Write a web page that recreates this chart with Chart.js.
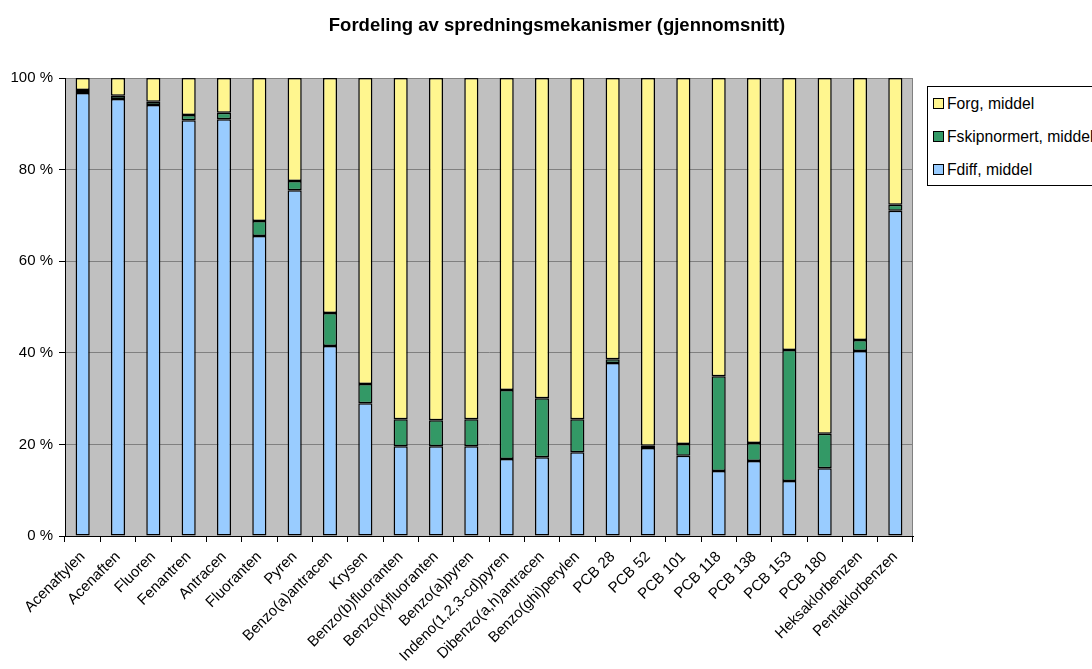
<!DOCTYPE html>
<html>
<head>
<meta charset="utf-8">
<script src="https://cdn.jsdelivr.net/npm/chart.js@4"></script>
<style>
  html, body { margin: 0; padding: 0; background: #fff; }
  #wrap { position: relative; width: 1092px; height: 669px; overflow: hidden; font-family: "Liberation Sans", Arial, sans-serif; }
  #title { position: absolute; left: 0; width: 1114px; top: 14px; text-align: center; font-weight: bold; font-size: 18.5px; line-height: 21px; color: #000; }
  #legend { position: absolute; left: 927px; top: 86px; width: 200px; height: 100px; border: 1px solid #000; box-sizing: border-box; background: #fff; }
  .li { position: absolute; left: 5px; font-size: 15.7px; color: #000; white-space: nowrap; line-height: 18px; }
  .sw { display: inline-block; width: 9px; height: 9px; border: 1px solid #000; margin-right: 3px; vertical-align: 0px; }
</style>
</head>
<body>
<div id="wrap">
  <canvas id="c" width="1092" height="669"></canvas>
  <div id="title">Fordeling av spredningsmekanismer (gjennomsnitt)</div>
  <div id="legend"></div>
</div>
<script>
const categories = ["Acenaftylen","Acenaften","Fluoren","Fenantren","Antracen","Fluoranten","Pyren","Benzo(a)antracen","Krysen","Benzo(b)fluoranten","Benzo(k)fluoranten","Benzo(a)pyren","Indeno(1,2,3-cd)pyren","Dibenzo(a,h)antracen","Benzo(ghi)perylen","PCB 28","PCB 52","PCB 101","PCB 118","PCB 138","PCB 153","PCB 180","Heksaklorbenzen","Pentaklorbenzen"];
const fdiff = [96.7,95.4,94.1,90.8,91.0,65.5,75.5,41.5,29.0,19.6,19.6,19.6,16.8,17.2,18.3,37.8,19.2,17.5,14.2,16.4,12.0,14.8,40.4,71.0];
const fskip = [0.7,0.7,0.7,1.1,1.4,3.3,2.0,7.2,4.2,5.9,5.7,5.9,15.1,12.9,7.2,0.8,0.5,2.6,20.7,3.9,28.6,7.5,2.4,1.3];
const forg = [2.6,3.9,5.2,8.1,7.6,31.2,22.5,51.3,66.8,74.5,74.7,74.5,68.1,69.9,74.5,61.4,80.3,79.9,65.1,79.7,59.4,77.7,57.2,27.7];
const yTicks = [0,20,40,60,80,100];
const seriesNames = ["Fdiff, middel","Fskipnormert, middel","Forg, middel"];
const seriesColors = ["#99CCFF","#339966","#FFF68F"];

const legendItems = [[2,104],[1,137],[0,170]];
const lg = document.getElementById('legend');
legendItems.forEach(([i,y]) => {
  const d = document.createElement('div');
  d.className = 'li';
  d.style.top = (y - 86 - 10) + 'px';
  d.innerHTML = '<span class="sw" style="background:' + seriesColors[i] + '"></span>' + seriesNames[i];
  lg.appendChild(d);
});

const bgPlugin = {
  id: 'bg',
  beforeDraw(chart) {
    const a = chart.chartArea, ctx = chart.ctx;
    ctx.save();
    ctx.fillStyle = '#C0C0C0';
    ctx.fillRect(a.left, a.top, a.right - a.left, a.bottom - a.top);
    ctx.strokeStyle = '#808080';
    ctx.lineWidth = 1;
    ctx.strokeRect(a.left + 0.5, a.top + 0.5, a.right - a.left - 1, a.bottom - a.top);
    ctx.restore();
  }
};

const mk = (i, data) => ({
  label: seriesNames[i], data, backgroundColor: seriesColors[i],
  borderColor: '#000', borderWidth: 1.5, borderSkipped: false,
  categoryPercentage: 1.0, barPercentage: 0.4
});

const fontSpec = { family: '"Liberation Sans", Arial, sans-serif', size: 15 };

new Chart(document.getElementById('c'), {
  type: 'bar',
  data: { labels: categories, datasets: [mk(0, fdiff), mk(1, fskip), mk(2, forg)] },
  plugins: [bgPlugin],
  options: {
    responsive: false, animation: false,
    layout: { padding: { top: 78, right: 179, left: 0, bottom: 0 } },
    plugins: { legend: { display: false }, title: { display: false }, tooltip: { enabled: false } },
    scales: {
      x: {
        stacked: true,
        offset: true,
        grid: { offset: true, drawOnChartArea: false, drawTicks: true, tickLength: 6, tickColor: '#000' },
        border: { color: '#000', width: 1 },
        ticks: { minRotation: 45, maxRotation: 45, autoSkip: false, color: '#000', padding: 6, font: fontSpec },
        afterFit(s) { s.height = 133; }
      },
      y: {
        stacked: true, min: 0, max: 100,
        afterBuildTicks(s) { s.ticks = yTicks.map(v => ({ value: v })); },
        grid: { color: '#808080', drawTicks: true, tickLength: 6, tickColor: '#000' },
        border: { color: '#000', width: 1 },
        ticks: { color: '#000', padding: 6, callback: v => v + ' %', font: fontSpec },
        afterFit(s) { s.width = 65; }
      }
    }
  }
});
</script>
</body>
</html>
